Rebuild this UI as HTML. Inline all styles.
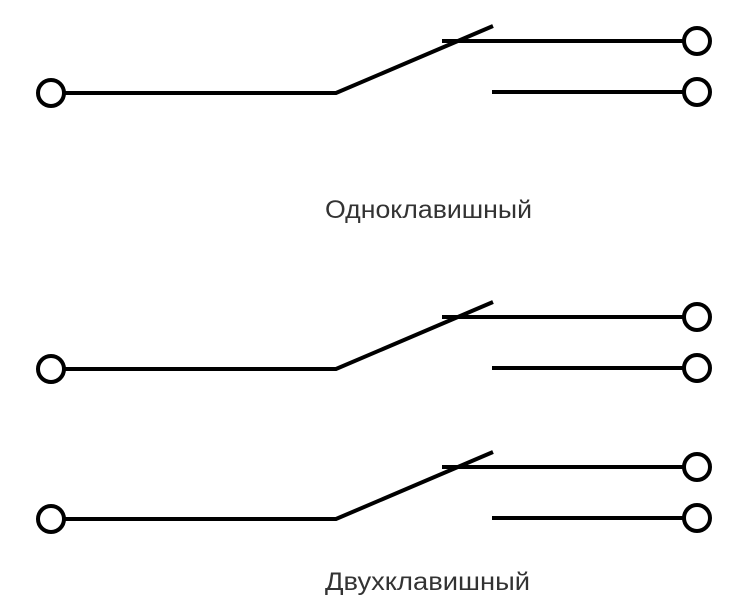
<!DOCTYPE html>
<html><head><meta charset="utf-8"><style>html,body{margin:0;padding:0;background:#fff}svg{display:block}</style></head>
<body>
<svg width="750" height="614" viewBox="0 0 750 614" xmlns="http://www.w3.org/2000/svg">
<defs>
<g id="sw" fill="none" stroke="#000" stroke-width="4">
<circle cx="51" cy="93" r="13"/>
<polyline points="64,93 336,93 493,26"/>
<line x1="442" y1="41" x2="684" y2="41"/>
<circle cx="697" cy="41" r="13"/>
<line x1="492" y1="92" x2="684" y2="92"/>
<circle cx="697" cy="92" r="13"/>
</g>
</defs>
<use href="#sw"/>
<use href="#sw" transform="translate(0,276)"/>
<use href="#sw" transform="translate(0,426)"/>
<text x="325" y="218" font-family="Liberation Sans, sans-serif" font-size="25" fill="#333" textLength="207" lengthAdjust="spacingAndGlyphs">Одноклавишный</text>
<text x="325" y="590" font-family="Liberation Sans, sans-serif" font-size="25" fill="#333" textLength="205" lengthAdjust="spacingAndGlyphs">Двухклавишный</text>
</svg>
</body></html>
